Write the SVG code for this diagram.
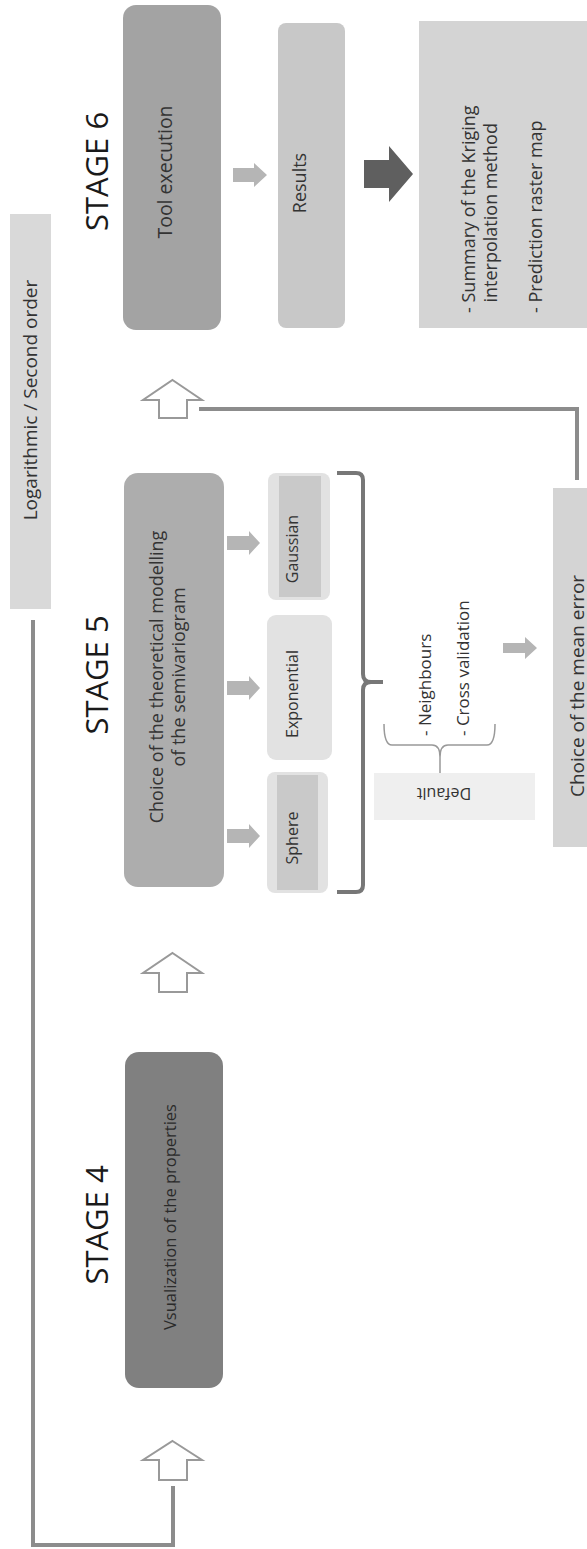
<svg xmlns="http://www.w3.org/2000/svg" width="587" height="1549" viewBox="0 0 587 1549">
<style>
text{font-family:"Open Sans","Noto Sans","DejaVu Sans",sans-serif;fill:#333}
.stage{font-size:31px;fill:#1a1a1a}
.lbl{font-size:18px}
.sm{font-size:16px}
.sarrow{fill:#b5b5b5}
.open{fill:#fff;stroke:#999;stroke-width:2}
.conn{fill:none;stroke:#8c8c8c;stroke-width:4}
</style>
<rect width="587" height="1549" fill="#fff"/>
<g id="stage-labels">
<text class="stage" transform="translate(108,171.5) rotate(-90)" text-anchor="middle">STAGE 6</text>
<text class="stage" transform="translate(108,675) rotate(-90)" text-anchor="middle">STAGE 5</text>
<text class="stage" transform="translate(108,1225) rotate(-90)" text-anchor="middle">STAGE 4</text>
</g>
<g id="log-box">
<rect x="10" y="214" width="41" height="395" fill="#d9d9d9"/>
<text style="font-size:19px" transform="translate(37,400) rotate(-90)" text-anchor="middle">Logarithmic / Second order</text>
</g>
<g id="tool-execution">
<rect x="123" y="5" width="98" height="325" rx="13" fill="#a3a3a3"/>
<text style="font-size:19.5px" transform="translate(172,172) rotate(-90)" text-anchor="middle">Tool execution</text>
</g>
<g id="results">
<rect x="278" y="23" width="67" height="305" rx="8" fill="#c8c8c8"/>
<text class="lbl" transform="translate(306,183) rotate(-90)" text-anchor="middle">Results</text>
</g>
<g id="summary">
<rect x="419" y="21" width="168" height="307" fill="#d4d4d4"/>
<text class="lbl" transform="translate(475,313) rotate(-90)">- Summary of the Kriging</text>
<text class="lbl" transform="translate(497,302.5) rotate(-90)">interpolation method</text>
<text class="lbl" transform="translate(542,313) rotate(-90)">- Prediction raster map</text>
</g>
<g id="theoretical-model">
<rect x="124" y="473" width="100" height="414" rx="14" fill="#adadad"/>
<text class="lbl" transform="translate(163,677) rotate(-90)" text-anchor="middle">Choice of the theoretical modelling</text>
<text class="lbl" transform="translate(185,677) rotate(-90)" text-anchor="middle">of the semivariogram</text>
</g>
<g id="gaussian">
<rect x="268" y="473" width="62" height="127" rx="8" fill="#e2e2e2"/>
<rect x="279" y="476" width="42" height="121" fill="#c9c9c9"/>
<text class="sm" transform="translate(298,549) rotate(-90)" text-anchor="middle">Gaussian</text>
</g>
<g id="exponential">
<rect x="267" y="615" width="65" height="145" rx="9" fill="#e2e2e2"/>
<text class="sm" transform="translate(298,694) rotate(-90)" text-anchor="middle">Exponential</text>
</g>
<g id="sphere">
<rect x="267" y="772" width="61" height="121" rx="8" fill="#e2e2e2"/>
<rect x="277" y="775" width="41" height="115" fill="#c9c9c9"/>
<text class="sm" transform="translate(298,838) rotate(-90)" text-anchor="middle">Sphere</text>
</g>
<g id="options">
<text style="font-size:17px" transform="translate(431,736) rotate(-90)">- Neighbours</text>
<text style="font-size:17px" transform="translate(469,736) rotate(-90)">- Cross validation</text>
</g>
<g id="default">
<rect x="374" y="773" width="161" height="47" fill="#efefef"/>
<text class="sm" transform="translate(444,788) rotate(180)" text-anchor="middle">Default</text>
</g>
<g id="mean-error">
<rect x="553" y="488" width="34" height="359" fill="#d4d4d4"/>
<text style="font-size:19px" transform="translate(583.5,797) rotate(-90)">Choice of the mean error</text>
</g>
<g id="visualization">
<rect x="125" y="1052" width="98" height="336" rx="14" fill="#808080"/>
<text style="font-size:16.5px;fill:#2a2a2a" transform="translate(176,1217) rotate(-90)" text-anchor="middle">Vsualization of the properties</text>
</g>
<g id="connectors">
<polygon class="sarrow" points="233,168 254,168 254,163 267,175 254,187 254,182 233,182"/>
<polygon fill="#5f5f5f" points="364,160 389,160 389,146 413,174 389,202 389,188 364,188"/>
<polygon class="sarrow" points="227,536 249,536 249,531 260,543 249,555 249,550 227,550"/>
<polygon class="sarrow" points="227,681 249,681 249,676 260,688 249,700 249,695 227,695"/>
<polygon class="sarrow" points="227,829 249,829 249,824 260,836 249,848 249,843 227,843"/>
<polygon class="sarrow" points="503,643 525,643 525,637 537,648 525,659 525,653 503,653"/>
<polygon class="open" points="172.5,380 202,400 187,400 187,418 159,418 159,400 143,400"/>
<polygon class="open" points="172.5,953 202,973 187,973 187,992 159,992 159,973 143,973"/>
<polygon class="open" points="172.5,1441 202,1460 187,1460 187,1480 159,1480 159,1460 143,1460"/>
<path class="conn" d="M199,409 H577 V480"/>
<path class="conn" d="M33,620 V1545 H173 V1486"/>
<path fill="none" stroke="#777" stroke-width="4" d="M337,473 H356 Q363,473 363,480 V674 Q363,682 371,682 H383 M371,682 Q363,682 363,690 V885 Q363,892 356,892 H337"/>
<path fill="none" stroke="#999" stroke-width="1.5" d="M384,724 Q384,745 392,745 H432 Q440,745 440,757 V773 M440,757 Q440,745 448,745 H487 Q495,745 495,724"/>
</g>
</svg>
